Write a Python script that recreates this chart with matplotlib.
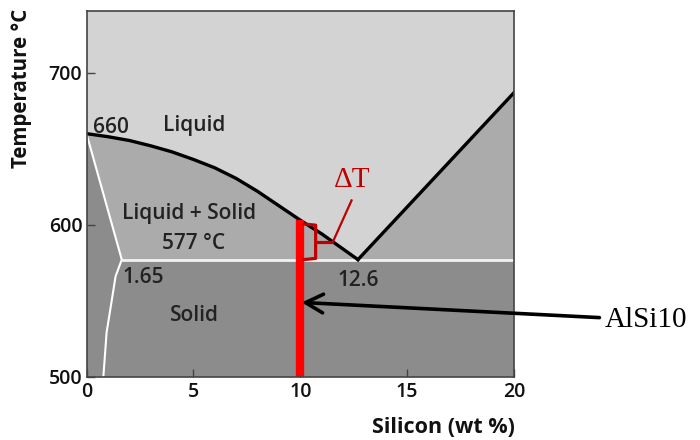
import matplotlib
matplotlib.use("Agg")
import matplotlib.pyplot as plt
from matplotlib.patches import Polygon

# ---- data ----
liq_left_x = [0, 1, 2, 3, 4, 5, 6, 7, 8, 9, 10, 11, 12, 12.7]
liq_left_T = [660, 658, 655.5, 652, 648, 643, 637.5, 630.5, 622, 612.5, 603, 594, 584, 577]
liq_right_x = [12.7, 20]
liq_right_T = [577, 687]
solidus_x = [0, 1.65]
solidus_T = [660, 577]
solvus_x = [1.65, 1.36, 1.18, 0.94, 0.79]
solvus_T = [577, 566, 550, 529, 500]
eutectic_T = 577
eutectic_x_range = [1.65, 20]
alloy_x = 10
alloy_T_top = 603
bracket_T = [600.5, 577]
bracket_x = [10.15, 10.72, 11.52]
dT_line_x = [11.52, 12.4]
dT_line_T = [588.5, 616]
xticks = [0, 5, 10, 15, 20]
yticks = [500, 600, 700]
xlim = (0, 20)
ylim = (500, 741)

c_liq = "#d3d3d3"
c_two = "#ababab"
c_sol = "#8c8c8c"
c_red = "#ff0000"
c_dark_red = "#c00000"

FONT = "Open Sans"

fig = plt.figure(figsize=(7, 4.4), dpi=100)
ax = fig.add_axes([86.5 / 700, 1 - 376.5 / 440, (514 - 86.5) / 700, (376.5 - 10.7) / 440])
ax.set_xlim(*xlim)
ax.set_ylim(*ylim)
ax.set_facecolor(c_liq)

# L + alpha region
ax.fill_between(liq_left_x, [eutectic_T] * len(liq_left_x), liq_left_T, color=c_two, lw=0)
# L + Si region
ax.fill_between(liq_right_x + [xlim[1]], [eutectic_T] * 3, liq_right_T + [liq_right_T[-1]],
                color=c_two, lw=0)
# solid below eutectic
ax.fill_between([xlim[0], xlim[1]], [ylim[0]] * 2, [eutectic_T] * 2, color=c_sol, lw=0)
# alpha region
alpha_poly = list(zip(solidus_x, solidus_T)) + list(zip(solvus_x[1:], solvus_T[1:])) + [(0, 500)]
ax.add_patch(Polygon(alpha_poly, closed=True, facecolor=c_sol, edgecolor="none"))

# lines
ax.plot(solidus_x, solidus_T, color="white", lw=1.5, solid_capstyle="butt")
ax.plot(solvus_x, solvus_T, color="white", lw=1.5)
ax.plot(eutectic_x_range, [eutectic_T] * 2, color="#f2f2f2", lw=2)
ax.plot(liq_left_x, liq_left_T, color="black", lw=2.4)
ax.plot(liq_right_x, liq_right_T, color="black", lw=2.4)

# alloy bar
ax.plot([alloy_x, alloy_x], [ylim[0], alloy_T_top], color=c_red, lw=6, solid_capstyle="butt")

# bracket
bt, bb = bracket_T
bm = (bt + bb) / 2
x0, x1, x2 = bracket_x
ax.plot([x0, x1, x1, x0], [bt, bt - 0.8, bb + 0.8, bb], color=c_dark_red, lw=2.3,
        solid_joinstyle="round", solid_capstyle="round")
ax.plot([x1, x2], [bm, bm], color=c_dark_red, lw=2.3, solid_capstyle="butt")
ax.plot(dT_line_x, dT_line_T, color=c_dark_red, lw=1.6)

# text labels
tk = dict(fontfamily=FONT, fontweight="semibold", fontsize=15, color="#222222")
ax.text(0.29, 660.5, "660", ha="left", va="baseline", **tk)
ax.text(5.05, 665.5, "Liquid", ha="center", va="center", **tk)
ax.text(4.79, 607.6, "Liquid + Solid", ha="center", va="center", **tk)
ax.text(5.02, 587.9, "577 °C", ha="center", va="center", **tk)
ax.text(1.7, 565.5, "1.65", ha="left", va="center", **tk)
ax.text(12.73, 563, "12.6", ha="center", va="center", **tk)
ax.text(5.07, 540.5, "Solid", ha="center", va="center", **tk)
ax.text(12.45, 629.5, "ΔT", ha="center", va="center", fontfamily="Liberation Serif",
        fontsize=21, color=c_dark_red)

# arrow with AlSi10 label
ax.annotate("AlSi10", xy=(alloy_x + 0.07, 548.8), xycoords="data",
            xytext=(605 / 700, 1 - 320 / 440), textcoords="figure fraction",
            ha="left", va="center", fontfamily="Liberation Serif", fontsize=21,
            arrowprops=dict(arrowstyle="->,head_length=0.6,head_width=0.32", lw=2.6,
                            color="black", shrinkA=2, shrinkB=0),
            annotation_clip=False)

# axes styling
ax.set_xticks(xticks)
ax.set_yticks(yticks)
ax.tick_params(direction="in", length=6, width=1, color="#444444", pad=3)
ax.tick_params(axis="x", pad=4)
for lab in ax.get_xticklabels() + ax.get_yticklabels():
    lab.set_fontfamily(FONT)
    lab.set_fontweight("semibold")
    lab.set_fontsize(14)
    lab.set_color("#111111")
for s in ax.spines.values():
    s.set_color("#444444")
    s.set_linewidth(1.2)

fig.text(22 / 700, 1 - 9 / 440, "Temperature °C", rotation=90, ha="center", va="top",
         fontfamily=FONT, fontweight="bold", fontsize=14.8, color="#111111")
fig.text(515 / 700, 1 - 427 / 440, "Silicon (wt %)", ha="right", va="center",
         fontfamily=FONT, fontweight="bold", fontsize=15.5, color="#111111")

fig.savefig("out.png", dpi=100)
